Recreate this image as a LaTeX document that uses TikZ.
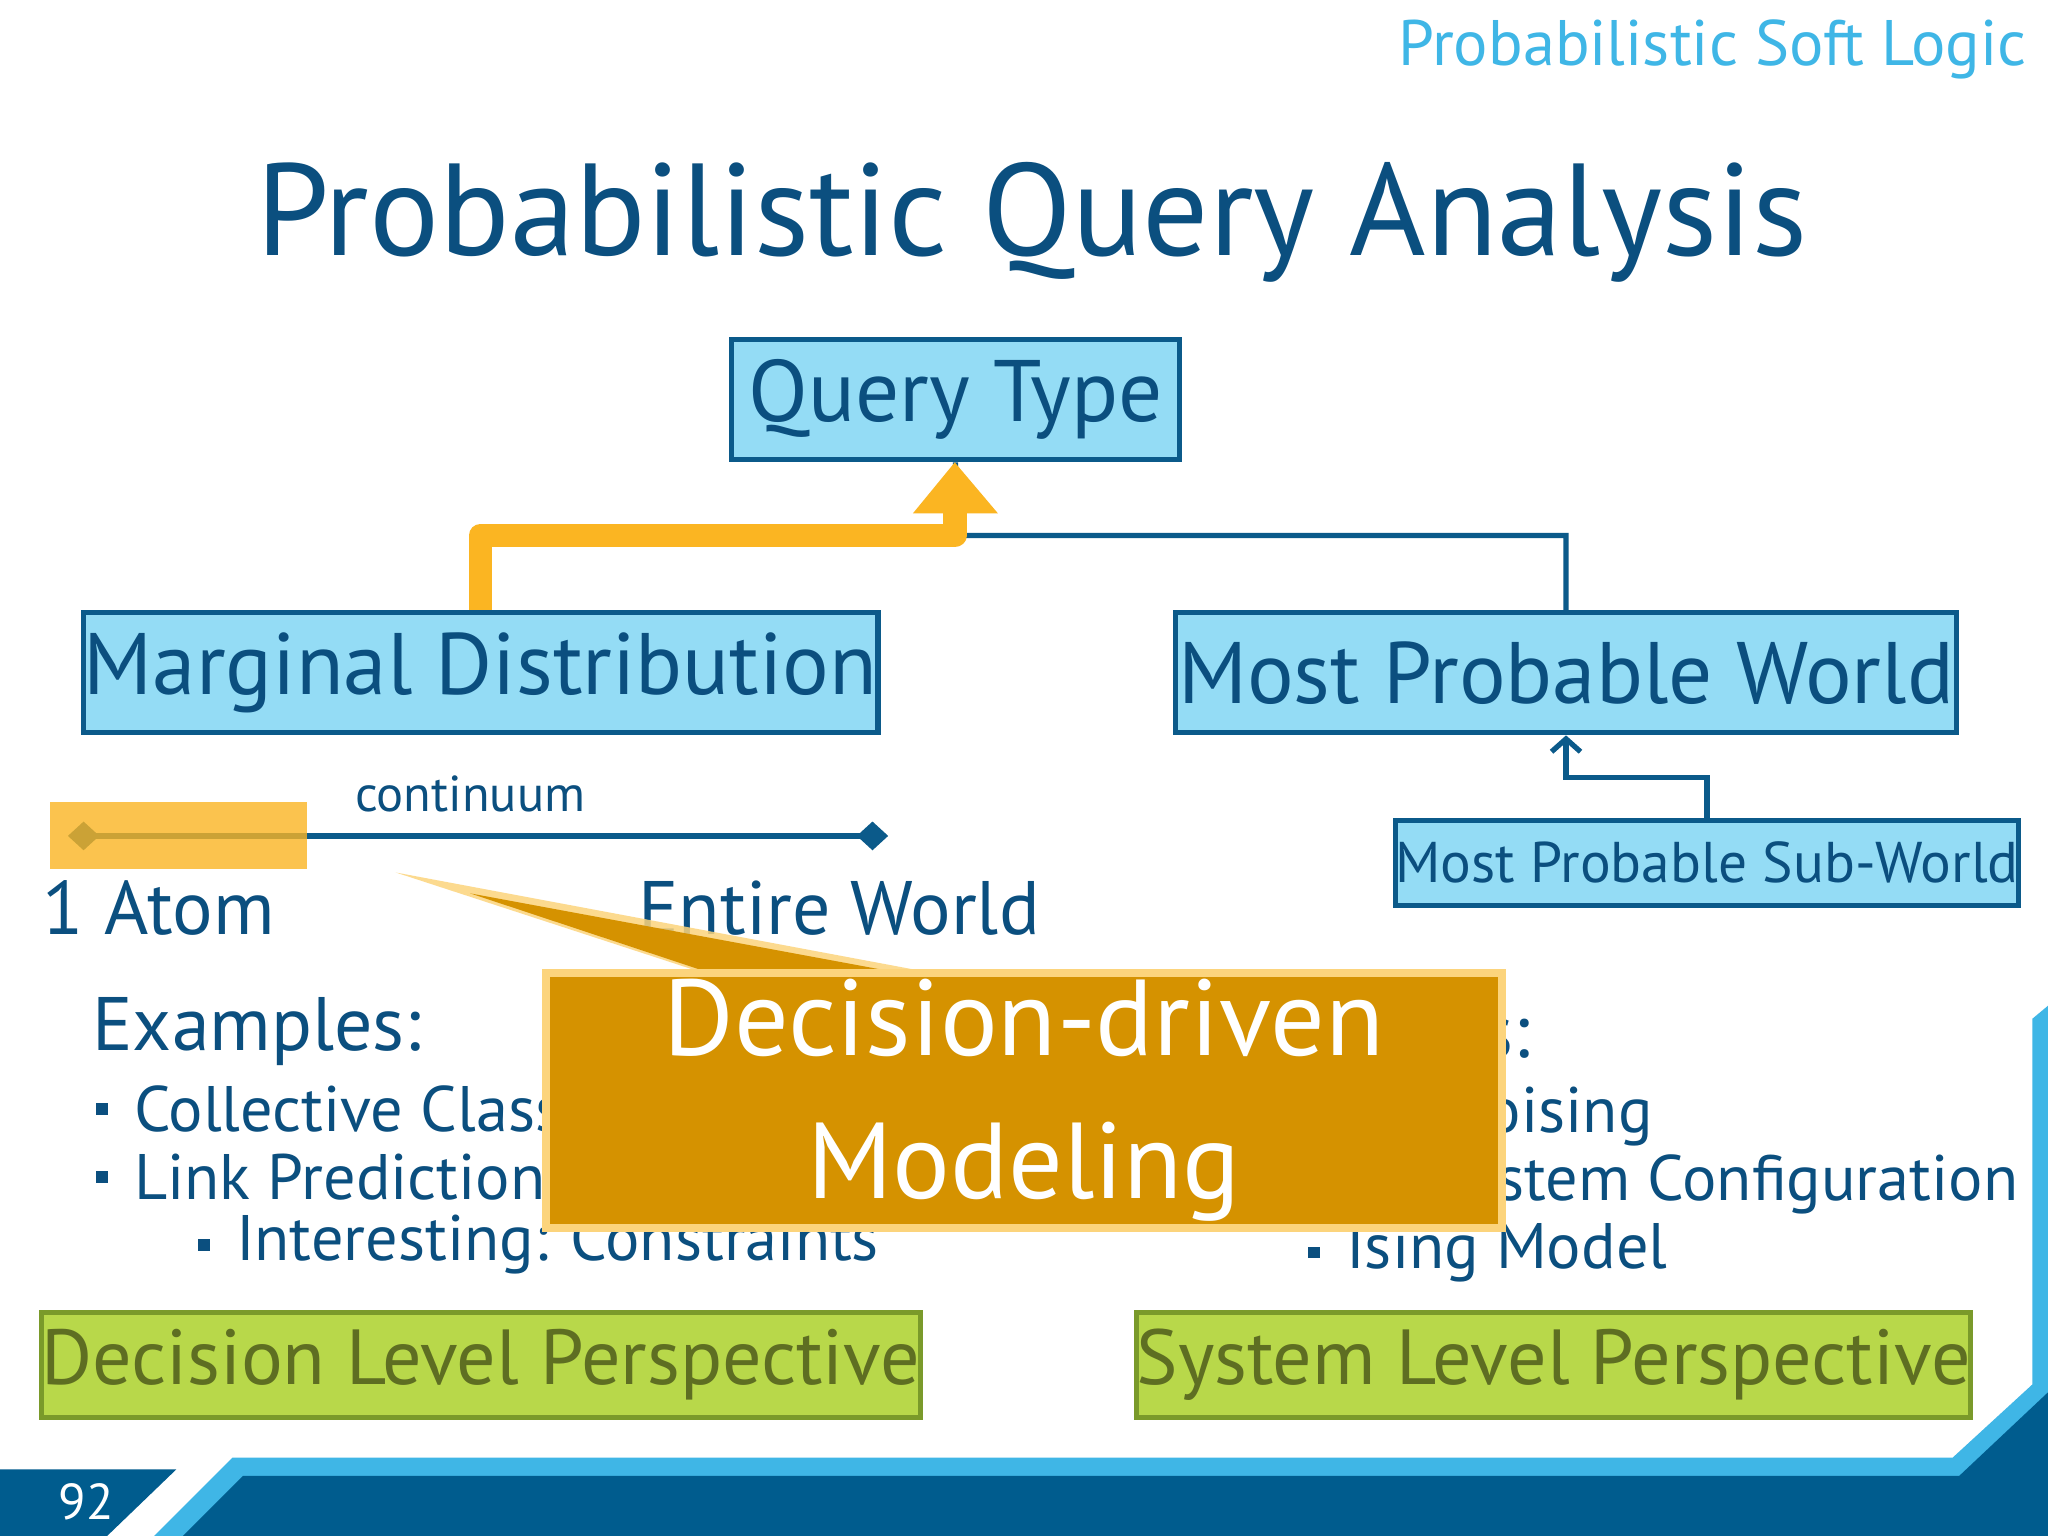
\documentclass[tikz,border=0pt]{standalone}
\usepackage{fontspec}
\setmainfont{PT Sans}
\usetikzlibrary{arrows.meta,shapes.geometric}
\definecolor{dblue}{HTML}{0B5A8A}
\definecolor{tblue}{HTML}{0B4F7F}
\definecolor{lblue}{HTML}{94DCF5}
\definecolor{sky}{HTML}{3FB6E6}
\definecolor{orng}{HTML}{FBB522}
\definecolor{corng}{HTML}{D59200}
\definecolor{cedge}{HTML}{FCD47C}
\definecolor{gfill}{HTML}{B8D84A}
\definecolor{gline}{HTML}{7A9A2A}
\definecolor{gtext}{HTML}{5E6E22}
\definecolor{band}{HTML}{005C8E}
\newlength\px \setlength\px{0.2845pt}
\tikzset{
 qbox/.style={draw=dblue,line width=4\px,fill=lblue,text=tblue,inner sep=0},
 gbox/.style={draw=gline,line width=4\px,fill=gfill,text=gtext,inner sep=0,font=\fontsize{17}{20}\selectfont},
 conn/.style={draw=dblue,line width=4\px},
 txt/.style={text=tblue,inner sep=0},
 bul/.style={fill=tblue,minimum size=9\px,inner sep=0},
}
\begin{document}
\begin{tikzpicture}[x=0.01cm,y=-0.01cm]
\useasboundingbox (0,0) rectangle (1568,1176);
\fill[white] (0,0) rectangle (1568,1176);
% header
\node[anchor=east,text=sky,font=\fontsize{14}{16}\selectfont,inner sep=0] (psl) at (1552,38) {Probabilistic Soft Logic};
\node[txt,font=\fontsize{28.5}{32}\selectfont] (title) at (790,170) {Probabilistic Query Analysis};
% tree
\node[qbox,minimum width=343\px,minimum height=92\px,font=\fontsize{19}{22}\selectfont] (qt) at (731.5,306) {Query Type};
\node[qbox,minimum width=608\px,minimum height=92\px,font=\fontsize{19}{22}\selectfont] (md) at (368,515) {Marginal Distribution};
\node[qbox,minimum width=598\px,minimum height=92\px,font=\fontsize{19}{22}\selectfont] (mpw) at (1199,515) {Most Probable World};
\node[qbox,minimum width=474\px,minimum height=65\px,font=\fontsize{12.5}{15}\selectfont] (sub) at (1307,660.5) {Most Probable Sub-World};
\coordinate (j) at (731,410);
\draw[conn] (qt.south) -- (j) -| (mpw.north);
\draw[orng,line width=18\px,line join=round] (md.north) -- (368,410) -- (731,410) -- (731,385);
\fill[orng] (699,393) -- (731,354) -- (764,393) -- cycle;
\draw[conn,-{Straight Barb[length=2.8pt,width=6.3pt,line width=1.14pt]}] (sub.north) -- (1307,595) -- (1199,595) -- (mpw.south);
% continuum
\coordinate (cl) at (64,640); \coordinate (cr) at (668,640);
\draw[conn] (cl) -- (cr);
\fill[dblue] (52,640) -- (64,629) -- (76,640) -- (64,651) -- cycle;
\fill[dblue] (656,640) -- (668,629) -- (680,640) -- (668,651) -- cycle;
\fill[orng,opacity=0.8] (38,614) rectangle (235,665);
\node[txt,font=\fontsize{11}{13}\selectfont] (cont) at (360,608) {continuum};
\node[txt,anchor=west,font=\fontsize{16.5}{19}\selectfont] (atom) at (32,695) {1 Atom};
\node[txt,anchor=west,font=\fontsize{16.5}{19}\selectfont] (ew) at (488,695) {Entire World};
% examples left
\node[txt,anchor=west,font=\fontsize{16.5}{19}\selectfont] (exl) at (70,790) {Examples:};
\node[bul] (b1) at (78,849) {}; \node[txt,anchor=west,font=\fontsize{14}{17}\selectfont] at (102,849) {Collective Classification};
\node[bul] (b2) at (78,901) {}; \node[txt,anchor=west,font=\fontsize{14}{17}\selectfont] at (102,901) {Link Prediction};
\node[bul] (b3) at (156,953) {}; \node[txt,anchor=west,font=\fontsize{14}{17}\selectfont] at (180,953) {Interesting: Constraints};
% examples right
\node[txt,anchor=east,font=\fontsize{16.5}{19}\selectfont] (exr) at (1172,795) {Examples:};
\node[txt,anchor=east,font=\fontsize{14}{17}\selectfont] at (1266,855) {Image Denoising};
\node[txt,anchor=east,font=\fontsize{14}{17}\selectfont] at (1546,907) {System Configuration};
\node[bul] (b4) at (1006,959) {}; \node[txt,anchor=west,font=\fontsize{14}{17}\selectfont] at (1030,959) {Ising Model};
% callout
\fill[cedge,opacity=0.85] (303,668) -- (545,747) -- (725,747) -- cycle;
\fill[corng] (360,684) -- (550,747) -- (700,747) -- cycle;
\node[fill=corng,draw=cedge,line width=6\px,minimum width=732\px,minimum height=195\px,inner sep=0,text=white,align=center,font=\fontsize{23.5}{31}\selectfont] (call) at (784,842.5) {Decision-driven\\Modeling};
% green boxes
\node[gbox,minimum width=660\px,minimum height=80\px] (dlp) at (368,1045) {Decision Level Perspective};
\node[gbox,minimum width=631\px,minimum height=80\px] (slp) at (1189.5,1045) {System Level Perspective};
% bottom band
\fill[sky] (118,1176) -- (178,1116) -- (1495,1116) -- (1556,1060) -- (1556,780) -- (1568,770) -- (1568,1176) -- cycle;
\fill[band] (140,1176) -- (186,1130) -- (1500,1130) -- (1568,1066) -- (1568,1176) -- cycle;
\fill[band] (0,1176) -- (0,1125) -- (135,1125) -- (82,1176) -- cycle;
\node[text=white,font=\fontsize{11}{13}\selectfont,inner sep=0] (num) at (66,1150) {92};
\end{tikzpicture}
\end{document}
